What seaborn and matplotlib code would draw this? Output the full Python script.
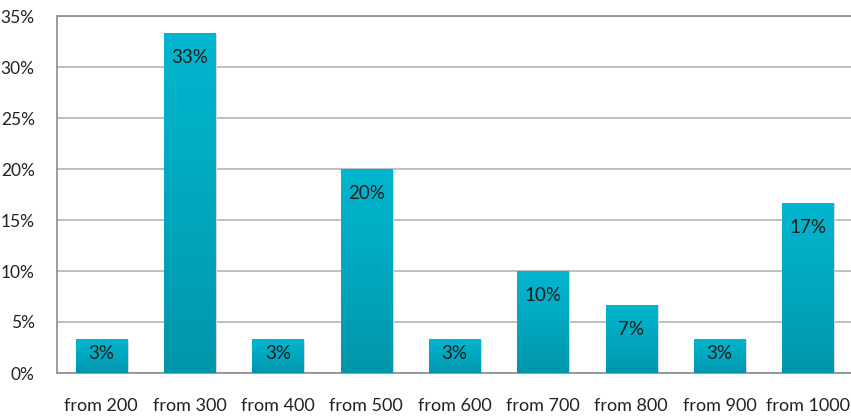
import numpy as np
import pandas as pd
import seaborn as sns
import matplotlib.pyplot as plt
from matplotlib.colors import LinearSegmentedColormap

# values (shares in %)
categories = ['from 200', 'from 300', 'from 400', 'from 500', 'from 600',
              'from 700', 'from 800', 'from 900', 'from 1000']
shares = [3.33, 33.33, 3.33, 20.0, 3.33, 10.0, 6.67, 3.33, 16.67]
y_ticks = [0, 5, 10, 15, 20, 25, 30, 35]
y_tick_labels = ['0%', '5%', '10%', '15%', '20%', '25%', '30%', '35%']

df = pd.DataFrame({'range': categories, 'share': shares})

sns.set_style('white')
plt.rcParams['font.family'] = ['Lato', 'DejaVu Sans']

fig = plt.figure(figsize=(8.51, 4.16), dpi=100)
ax = fig.add_axes([57 / 851, 43 / 416, 795 / 851, 357 / 416])

ax = sns.barplot(data=df, x='range', y='share', color='#00b4cc', width=0.58,
                 ax=ax, zorder=3, edgecolor='none')

# vertical gradient on each bar (light top, darker bottom)
cmap = LinearSegmentedColormap.from_list('bar', ['#0096aa', '#00a8bf', '#00b6ce'])
grad = np.linspace(0, 1, 256).reshape(-1, 1)
for p in ax.patches:
    x0, w, h = p.get_x(), p.get_width(), p.get_height()
    # faint shadow
    ax.add_patch(plt.Rectangle((x0 + 0.012, 0), w + 0.01, h - 0.05, color='#d8d8d8',
                               zorder=2, lw=0))
    im = ax.imshow(grad, cmap=cmap, origin='lower', aspect='auto',
                   extent=(x0, x0 + w, 0, h), zorder=4)
    im.set_clip_path(p)

for i, v in enumerate(shares):
    y = max(v - 2.4, v * 0.58)
    ax.text(i, y, f'{round(v):d}%', ha='center', va='center', fontsize=13.5,
            color='#1c1c1c', zorder=5)

ax.set_xlim(-0.5, 8.5)
ax.set_ylim(0, 35)
ax.set_yticks(y_ticks)
ax.set_yticklabels(y_tick_labels)
ax.yaxis.grid(True, color='#b4b4b4', lw=1.2, zorder=0)
ax.set_axisbelow(True)
ax.set_xlabel('')
ax.set_ylabel('')
ax.tick_params(axis='y', length=0, pad=16, labelsize=12.5, labelcolor='#222222')
ax.tick_params(axis='x', length=0, pad=18, labelsize=13, labelcolor='#222222')
for side in ['left', 'top', 'bottom']:
    ax.spines[side].set_color('#8c8c8c')
    ax.spines[side].set_linewidth(1.2)
ax.spines['right'].set_visible(False)

fig.savefig('out.png', dpi=100)
